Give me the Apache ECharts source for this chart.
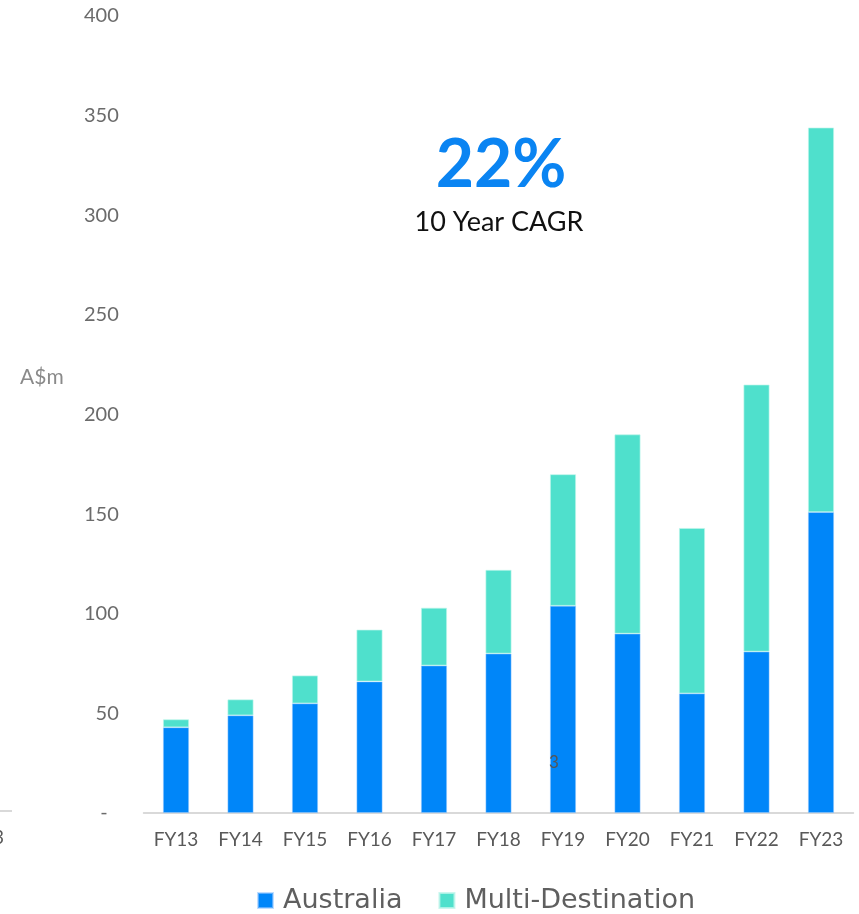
<!DOCTYPE html>
<html>
<head>
<meta charset="utf-8">
<script src="https://cdn.jsdelivr.net/npm/echarts@6/dist/echarts.min.js"></script>
<style>html,body{margin:0;padding:0;background:#fff;}#c{width:859px;height:914px;}</style>
</head>
<body>
<div id="c"></div>
<script>
const categories = ['FY13','FY14','FY15','FY16','FY17','FY18','FY19','FY20','FY21','FY22','FY23'];
const australia = [43, 49, 55, 66, 74, 80, 104, 90, 60, 81, 151];
const multiDestination = [4, 8, 14, 26, 29, 42, 66, 100, 83, 134, 193];
const yTicks = [0, 50, 100, 150, 200, 250, 300, 350, 400];

const chart = echarts.init(document.getElementById('c'));
const font = 'Lato, "Noto Sans", sans-serif';
const legendFont = '"DejaVu Sans", sans-serif';
chart.setOption({
  animation: false,
  grid: { left: 143.75, right: 5.75, top: 16, bottom: 101, containLabel: false },
  legend: {
    top: 887, left: 257, padding: 0,
    itemWidth: 15, itemHeight: 15, itemGap: 36,
    icon: 'rect',
    textStyle: { fontFamily: legendFont, fontSize: 27, color: '#5f5f5f', padding: [0, 0, 0, 5] },
    data: ['Australia', 'Multi-Destination']
  },
  xAxis: {
    type: 'category', data: categories,
    axisLine: { lineStyle: { color: '#d9d9d9', width: 2 } },
    axisTick: { show: false },
    axisLabel: { fontFamily: font, fontSize: 19, color: '#595959', margin: 17 }
  },
  yAxis: {
    type: 'value', min: 0, max: 400, interval: 50,
    splitLine: { show: false },
    axisLine: { show: false }, axisTick: { show: false },
    axisLabel: {
      fontFamily: font, fontSize: 20, color: '#6b6b6b', margin: 25,
      formatter: v => yTicks.includes(v) ? (v === 0 ? '{d|-}' : String(v)) : '',
      rich: { d: { fontFamily: font, fontSize: 20, color: '#6b6b6b', padding: [0, 11, 0, 0] } }
    }
  },
  series: [
    { name: 'Australia', type: 'bar', stack: 't', barWidth: 26, data: australia,
      itemStyle: { color: '#0086F9', borderColor: 'rgba(150,200,255,0.6)', borderWidth: 0.8 } },
    { name: 'Multi-Destination', type: 'bar', stack: 't', barWidth: 26, data: multiDestination,
      itemStyle: { color: '#4FE0CC', borderColor: 'rgba(190,245,235,0.8)', borderWidth: 0.8 } }
  ],
  graphic: [
    { type: 'text', z: 100, x: 20, y: 377, style: { text: 'A$m', fontFamily: font, fontSize: 21, fill: '#8a8a8a', verticalAlign: 'middle' } },
    { type: 'text', z: 100, x: 501, y: 166, style: { text: '22%', fontFamily: font, fontSize: 66, fontWeight: 'bold', fill: '#0A84F2', align: 'center', verticalAlign: 'middle' } },
    { type: 'text', z: 100, x: 499, y: 222, style: { text: '10 Year CAGR', fontFamily: font, fontSize: 27, fill: '#111', align: 'center', verticalAlign: 'middle' } },
    { type: 'text', z: 100, x: 554, y: 763, style: { text: '3', fontFamily: font, fontSize: 17, fill: '#555', align: 'center', verticalAlign: 'middle' } },
    { type: 'text', z: 100, x: 4, y: 838, style: { text: '3', fontFamily: font, fontSize: 19, fill: '#595959', align: 'right', verticalAlign: 'middle' } },
    { type: 'line', z: 100, shape: { x1: 0, y1: 811, x2: 12, y2: 811 }, style: { stroke: '#d9d9d9', lineWidth: 2 } }
  ]
});
</script>
</body>
</html>
